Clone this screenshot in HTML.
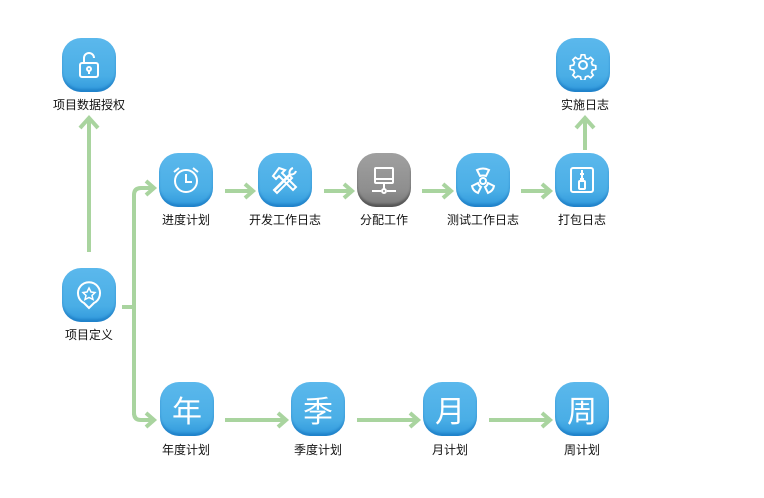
<!DOCTYPE html>
<html><head><meta charset="utf-8"><style>
body{margin:0;background:#fff;}
.wrap{position:relative;width:764px;height:498px;overflow:hidden;font-family:"Liberation Sans","Noto Sans CJK SC",sans-serif;}
.ic{position:absolute;width:54px;height:54px;border-radius:19px;background:linear-gradient(#5bb8ec,#4aaee6 70%,#2f98dc);box-shadow:inset 0 -3px 2px rgba(0,90,170,.35);display:flex;align-items:center;justify-content:center;color:#fff;font-size:30px;}
.g{background:linear-gradient(#a0a0a0,#8e8e8e 70%,#777);box-shadow:inset 0 -3px 2px rgba(0,0,0,.3);}
.lb{position:absolute;width:120px;text-align:center;font-size:12px;color:#111;}
</style></head><body><div class="wrap">
<svg width="764" height="498" style="position:absolute;left:0;top:0" fill="none" stroke="#a9d49f" stroke-width="4">
<path d="M89 252 V120 M80 128 L89 118 L98 128"/>
<path d="M122 307 H134 M134 415 V195 Q134 188 141 188 H153 M146 181 L154 188 L146 195"/>
<path d="M134 400 V413 Q134 420 141 420 H153 M146 413 L154 420 L146 427"/>
<path d="M225 191 H252 M245 184 L253 191 L245 198"/>
<path d="M324 191 H351 M344 184 L352 191 L344 198"/>
<path d="M422 191 H450 M443 184 L451 191 L443 198"/>
<path d="M521 191 H549 M542 184 L550 191 L542 198"/>
<path d="M585 150 V120 M576 128 L585 118 L594 128"/>
<path d="M225 420 H285 M278 413 L286 420 L278 427"/>
<path d="M357 420 H417 M410 413 L418 420 L410 427"/>
<path d="M489 420 H549 M542 413 L550 420 L542 427"/>
</svg>

<div class="ic" style="left:62px;top:38px"><svg width="30" height="30" viewBox="0 0 30 30" fill="none" stroke="#fff" stroke-width="2"><rect x="6" y="13" width="18" height="14" rx="2"/><path d="M10 13V8a5 5 0 0 1 10 0"/><circle cx="15" cy="19" r="2"/><path d="M15 21v3"/></svg></div>
<div class="lb" style="left:29px;top:96px">项目数据授权</div>

<div class="ic" style="left:556px;top:38px"><svg width="30" height="30" viewBox="0 0 30 30" fill="none" stroke="#fff" stroke-width="2"><circle cx="15" cy="15" r="4"/><path d="M13 3h4l1 4 3 1 3-2 3 3-2 3 1 3 4 1v4l-4 1-1 3 2 3-3 3-3-2-3 1-1 4h-4l-1-4-3-1-3 2-3-3 2-3-1-3-4-1v-4l4-1 1-3-2-3 3-3 3 2 3-1z" transform="translate(15 15) scale(.85) translate(-15 -15)"/></svg></div>
<div class="lb" style="left:525px;top:96px">实施日志</div>

<div class="ic" style="left:159px;top:153px"><svg width="32" height="32" viewBox="0 0 32 32" fill="none" stroke="#fff" stroke-width="2"><circle cx="16" cy="17" r="11"/><path d="M16 10v8h6M4 8l5-4M28 8l-5-4"/></svg></div>
<div class="lb" style="left:126px;top:211px">进度计划</div>

<div class="ic" style="left:258px;top:153px"><svg width="32" height="32" viewBox="0 0 32 32" fill="none" stroke="#fff" stroke-width="2"><path d="M5 26l15-15 3 3-15 15zM10 4l6 2-3 3 14 14-3 3L10 12l-3 3-3-3zM24 4a5 5 0 0 0-3 7L5 27M27 7a5 5 0 0 1-7 3"/></svg></div>
<div class="lb" style="left:225px;top:211px">开发工作日志</div>

<div class="ic g" style="left:357px;top:153px"><svg width="32" height="32" viewBox="0 0 32 32" fill="none" stroke="#fff" stroke-width="2"><rect x="7" y="4" width="18" height="15" rx="1"/><path d="M7 15h18M16 19v6M4 27h9M19 27h9"/><circle cx="16" cy="27" r="2"/></svg></div>
<div class="lb" style="left:324px;top:211px">分配工作</div>

<div class="ic" style="left:456px;top:153px"><svg width="32" height="32" viewBox="0 0 32 32" fill="none" stroke="#fff" stroke-width="2"><circle cx="16" cy="17" r="3"/><path d="M10 6q6-3 12 0l-3 6q-3-1-6 0zM5 22l6-3q1 3 3 4l-3 6q-5-2-6-7zM27 22l-6-3q-1 3-3 4l3 6q5-2 6-7z"/></svg></div>
<div class="lb" style="left:423px;top:211px">测试工作日志</div>

<div class="ic" style="left:555px;top:153px"><svg width="32" height="32" viewBox="0 0 32 32" fill="none" stroke="#fff" stroke-width="2"><rect x="5" y="4" width="22" height="24" rx="2"/><path d="M16 6v3M14 10h4M16 11v3M14 15h4"/><rect x="13" y="17" width="6" height="8" rx="1"/></svg></div>
<div class="lb" style="left:522px;top:211px">打包日志</div>

<div class="ic" style="left:62px;top:268px"><svg width="32" height="32" viewBox="0 0 32 32" fill="none" stroke="#fff" stroke-width="2"><path d="M16 29l-5-5A11 11 0 1 1 21 24z"/><path d="M16 9l2 4 4 .5-3 3 1 4-4-2-4 2 1-4-3-3 4-.5z" stroke-width="1.5"/></svg></div>
<div class="lb" style="left:29px;top:326px">项目定义</div>

<div class="ic" style="left:160px;top:382px">年</div>
<div class="lb" style="left:126px;top:441px">年度计划</div>
<div class="ic" style="left:291px;top:382px">季</div>
<div class="lb" style="left:258px;top:441px">季度计划</div>
<div class="ic" style="left:423px;top:382px">月</div>
<div class="lb" style="left:390px;top:441px">月计划</div>
<div class="ic" style="left:555px;top:382px">周</div>
<div class="lb" style="left:522px;top:441px">周计划</div>
</div></body></html>
